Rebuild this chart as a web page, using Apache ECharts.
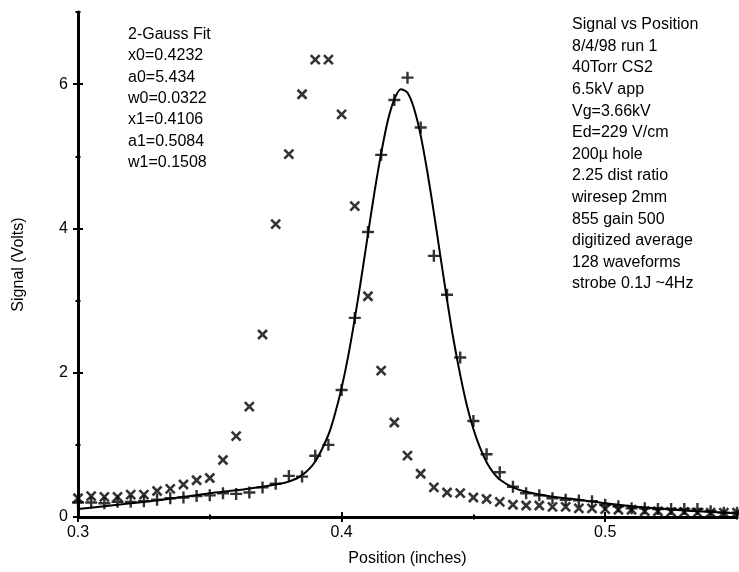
<!DOCTYPE html>
<html>
<head>
<meta charset="utf-8">
<script src="https://cdn.jsdelivr.net/npm/echarts@6/dist/echarts.min.js"></script>
<style>
html,body{margin:0;padding:0;background:#fff;}
#chart{width:739px;height:572px;}
</style>
</head>
<body>
<div id="chart"></div>
<script>
// positions (inches) of the measured points
var positions = [0.300,0.305,0.310,0.315,0.320,0.325,0.330,0.335,0.340,0.345,
    0.350,0.355,0.360,0.365,0.370,0.375,0.380,0.385,0.390,0.395,
    0.400,0.405,0.410,0.415,0.420,0.425,0.430,0.435,0.440,0.445,
    0.450,0.455,0.460,0.465,0.470,0.475,0.480,0.485,0.490,0.495,
    0.500,0.505,0.510,0.515,0.520,0.525,0.530,0.535,0.540,0.545,0.550];
// "+" points
var plusVals = [0.20,0.20,0.19,0.21,0.21,0.22,0.24,0.26,0.27,0.29,
    0.30,0.33,0.32,0.34,0.41,0.46,0.57,0.56,0.85,1.00,
    1.76,2.76,3.95,5.02,5.78,6.09,5.40,3.62,3.08,2.21,
    1.33,0.87,0.62,0.42,0.33,0.30,0.26,0.24,0.23,0.22,
    0.17,0.15,0.12,0.12,0.11,0.11,0.11,0.11,0.08,0.06,0.06];
// "x" points
var crossVals = [0.26,0.29,0.28,0.28,0.31,0.31,0.36,0.39,0.45,0.51,
    0.54,0.79,1.12,1.53,2.53,4.06,5.03,5.86,6.34,6.34,
    5.58,4.31,3.06,2.03,1.31,0.85,0.60,0.41,0.34,0.33,
    0.27,0.25,0.21,0.17,0.16,0.16,0.14,0.14,0.12,0.12,
    0.11,0.10,0.10,0.08,0.08,0.07,0.07,0.06,0.06,0.06,0.06];
// fit curve
var fitX = [0.300,0.310,0.320,0.330,0.340,0.350,0.360,0.370,0.375,0.380,
    0.385,0.390,0.395,0.3975,0.400,0.4025,0.405,0.4075,0.410,0.4125,
    0.415,0.4175,0.420,0.4225,0.425,0.4275,0.430,0.4325,0.435,0.4375,
    0.440,0.4425,0.445,0.4475,0.450,0.4525,0.455,0.4575,0.460,0.465,
    0.470,0.480,0.490,0.500,0.510,0.520,0.530,0.540,0.550];
var fitY = [0.11,0.15,0.19,0.23,0.28,0.33,0.37,0.42,0.45,0.49,
    0.58,0.77,1.14,1.43,1.79,2.23,2.75,3.32,3.92,4.51,
    5.04,5.49,5.79,5.93,5.88,5.66,5.29,4.79,4.22,3.61,
    3.01,2.45,1.97,1.55,1.22,0.96,0.76,0.62,0.52,0.41,
    0.35,0.28,0.24,0.19,0.15,0.12,0.09,0.07,0.05];
// ticks
var xMajor = [0.3,0.4,0.5];
var xMinor = [0.35,0.45,0.55];
var yMajor = [0,2,4,6];
var yMinor = [1,3,5,7];
// annotation texts
var fitNotes = ['2-Gauss Fit','x0=0.4232','a0=5.434','w0=0.0322','x1=0.4106','a1=0.5084','w1=0.1508'];
var runNotes = ['Signal vs Position','8/4/98 run 1','40Torr CS2','6.5kV app','Vg=3.66kV',
    'Ed=229 V/cm','200\u00b5 hole','2.25 dist ratio','wiresep 2mm','855 gain 500',
    'digitized average','128 waveforms','strobe 0.1J ~4Hz'];

var font = '"Liberation Sans", Arial, Helvetica, sans-serif';

function zip(xs, ys) {
    var out = [];
    for (var i = 0; i < xs.length; i++) out.push([xs[i], ys[i]]);
    return out;
}

// one axis layer: ticks only (inside or outside), optional labels
function axisLayer(kind, ticks, len, inside, withLabels) {
    var ax = {
        type: 'value',
        min: kind == 'x' ? 0.3 : 0,
        max: kind == 'x' ? 0.55 : 7,
        position: kind == 'x' ? 'bottom' : 'left',
        splitLine: {show: false},
        axisLine: {show: true, onZero: false, lineStyle: {color: '#000', width: 2.5}},
        axisTick: {show: true, inside: inside, length: len, customValues: ticks,
            lineStyle: {color: '#000', width: 2}},
        axisLabel: {show: false}
    };
    if (withLabels) {
        ax.axisLabel = {
            show: true, customValues: ticks, color: '#000',
            fontFamily: font, fontSize: 16,
            margin: kind == 'x' ? 8 : 10,
            formatter: function (v) { return kind == 'x' ? v.toFixed(1) : String(v); }
        };
        ax.name = kind == 'x' ? 'Position (inches)' : 'Signal (Volts)';
        ax.nameLocation = 'middle';
        ax.nameGap = kind == 'x' ? 34 : 51;
        ax.nameTextStyle = {color: '#000', fontFamily: font, fontSize: 16};
    }
    return ax;
}

var myChart = echarts.init(document.getElementById('chart'), null, {renderer: 'canvas'});
var plusPath = 'path://M0,5L10,5M5,0L5,10';
var crossPath = 'path://M0,0L10,10M10,0L0,10';

var option = {
    backgroundColor: '#fff',
    animation: false,
    grid: {left: 78, right: 2, top: 12, bottom: 50},
    xAxis: [
        axisLayer('x', xMajor, 5, false, true),
        axisLayer('x', xMajor, 5, true, false),
        axisLayer('x', xMinor, 2.5, false, false),
        axisLayer('x', xMinor, 2.5, true, false)
    ],
    yAxis: [
        axisLayer('y', yMajor, 5, false, true),
        axisLayer('y', yMajor, 5, true, false),
        axisLayer('y', yMinor, 2.5, false, false),
        axisLayer('y', yMinor, 2.5, true, false)
    ],
    series: [
        {
            name: 'fit', type: 'line', data: zip(fitX, fitY),
            smooth: 0.3, showSymbol: false, clip: false,
            lineStyle: {color: '#000', width: 2}
        },
        {
            name: 'plus', type: 'scatter', data: zip(positions, plusVals),
            symbol: plusPath, symbolSize: 12, clip: false,
            itemStyle: {color: 'none', borderColor: '#000', borderWidth: 2.4}
        },
        {
            name: 'cross', type: 'scatter', data: zip(positions, crossVals),
            symbol: crossPath, symbolSize: 9, clip: false,
            itemStyle: {color: 'none', borderColor: '#000', borderWidth: 2.6}
        }
    ],
    graphic: [
        {
            type: 'text', left: 128, top: 24,
            style: {text: fitNotes.join('\n'), font: '16px ' + font, lineHeight: 21.3, fill: '#000'}
        },
        {
            type: 'text', left: 572, top: 14,
            style: {text: runNotes.join('\n'), font: '16px ' + font, lineHeight: 21.6, fill: '#000'}
        }
    ]
};
myChart.setOption(option);
</script>
</body>
</html>
